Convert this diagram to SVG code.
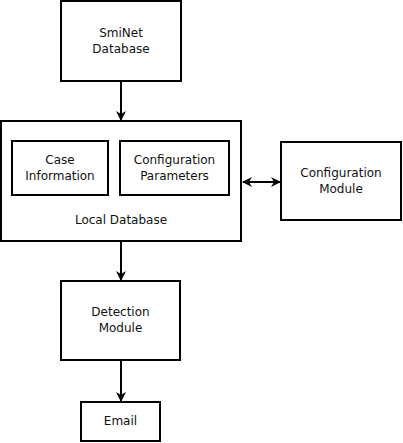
<svg xmlns="http://www.w3.org/2000/svg" width="403" height="443" viewBox="0 0 403 443">
<style>
.box{fill:#fff;stroke:#000;stroke-width:2}
.t{font-family:"DejaVu Sans",sans-serif;font-size:12px;fill:#111;text-anchor:middle}
.c{stroke:#000;stroke-width:2;fill:none}
</style>
<defs>
<marker id="ah" viewBox="0 0 10 10" refX="9" refY="5" markerWidth="5" markerHeight="5" orient="auto-start-reverse" markerUnits="strokeWidth">
<path d="M0,0 L10,5 L0,10 L3,5 Z" fill="#000"/>
</marker>
</defs>
<rect width="403" height="443" fill="#fff"/>
<g id="connectors">
<line class="c" x1="121" y1="81" x2="121" y2="120" marker-end="url(#ah)"/>
<line class="c" x1="243" y1="182" x2="280" y2="182" marker-start="url(#ah)" marker-end="url(#ah)"/>
<line class="c" x1="121" y1="241" x2="121" y2="280" marker-end="url(#ah)"/>
<line class="c" x1="121" y1="360" x2="121" y2="401" marker-end="url(#ah)"/>
</g>
<g id="sminet">
<rect class="box" x="61" y="1" width="120" height="80"/>
<text class="t" x="121" y="37">SmiNet</text>
<text class="t" x="121" y="53">Database</text>
</g>
<g id="localdb">
<rect class="box" x="1" y="121" width="240" height="120"/>
<text class="t" x="121" y="224">Local Database</text>
</g>
<g id="caseinfo">
<rect class="box" x="12" y="141" width="96" height="54"/>
<text class="t" x="60" y="164">Case</text>
<text class="t" x="60" y="180">Information</text>
</g>
<g id="configparams">
<rect class="box" x="120" y="141" width="109" height="54"/>
<text class="t" x="174.5" y="164">Configuration</text>
<text class="t" x="174.5" y="180">Parameters</text>
</g>
<g id="configmodule">
<rect class="box" x="281" y="142" width="120" height="78"/>
<text class="t" x="341" y="177">Configuration</text>
<text class="t" x="341" y="193">Module</text>
</g>
<g id="detection">
<rect class="box" x="61" y="281" width="119" height="79"/>
<text class="t" x="120.5" y="316">Detection</text>
<text class="t" x="120.5" y="332">Module</text>
</g>
<g id="email">
<rect class="box" x="81" y="402" width="79" height="39"/>
<text class="t" x="120.5" y="425">Email</text>
</g>
</svg>
